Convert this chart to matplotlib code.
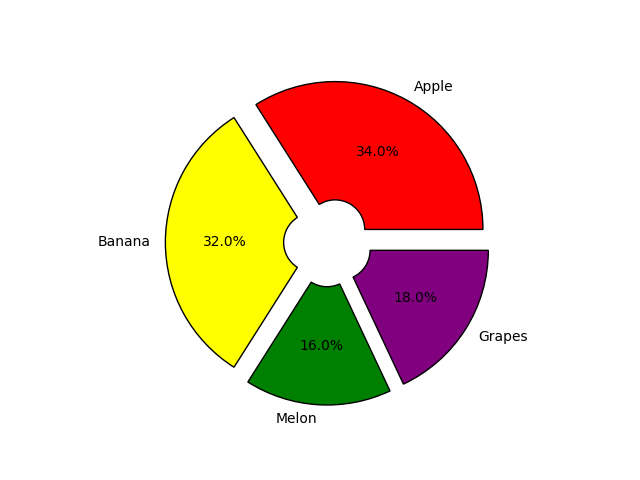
import matplotlib
matplotlib.use('Agg')
import matplotlib.pyplot as plt

fruits = ['Apple', 'Banana', 'Melon', 'Grapes']
shares = [34, 32, 16, 18]
colors = ['red', 'yellow', 'green', 'purple']
explode = [0.1, 0.1, 0.1, 0.1]

fig, ax = plt.subplots(figsize=(6.4, 4.8), dpi=100)
ax.pie(shares, labels=fruits, colors=colors, explode=explode,
       autopct='%1.1f%%', wedgeprops={'width': 0.8, 'edgecolor': 'black'})
plt.savefig('out.png')
